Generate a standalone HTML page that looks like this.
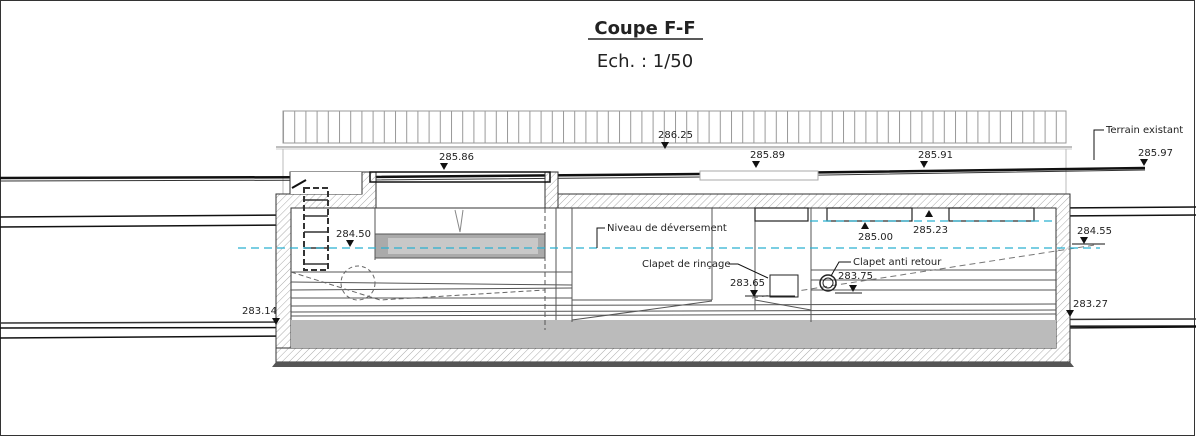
<!DOCTYPE html>
<html><head><meta charset="utf-8"><style>
html,body{margin:0;padding:0;background:#fff}
svg{display:block}
text{font-family:"DejaVu Sans","Liberation Sans",sans-serif;fill:#222}
</style></head><body>
<svg width="1196" height="437" viewBox="0 0 1196 437" xmlns="http://www.w3.org/2000/svg">
<defs>
<pattern id="h" width="5" height="5" patternUnits="userSpaceOnUse" patternTransform="rotate(45)">
<rect width="5" height="5" fill="#fff"/><line x1="0" y1="0" x2="0" y2="5" stroke="#aaa" stroke-width="1"/>
</pattern>
<pattern id="f" width="11.2" height="32" patternUnits="userSpaceOnUse" x="283">
<line x1="0.5" y1="0" x2="0.5" y2="32" stroke="#999" stroke-width="1"/>
</pattern>
</defs>
<rect x="0.5" y="0.5" width="1194" height="435" fill="#fff" stroke="#333"/>
<text x="645" y="34" font-size="18" font-weight="bold" text-anchor="middle">Coupe F-F</text>
<line x1="588" y1="39" x2="703" y2="39" stroke="#222" stroke-width="1.5"/>
<text x="645" y="67" font-size="18" text-anchor="middle">Ech. : 1/50</text>

<!-- fence -->
<rect x="283" y="111" width="783" height="32" fill="url(#f)" stroke="#999"/>
<line x1="276" y1="147" x2="1072" y2="147" stroke="#aaa" stroke-width="1.5"/>
<line x1="276" y1="149" x2="1072" y2="149" stroke="#ccc" stroke-width="1"/>
<line x1="283" y1="149" x2="283" y2="194" stroke="#bbb"/>
<line x1="1066" y1="149" x2="1066" y2="194" stroke="#bbb"/>

<!-- road -->
<path d="M0 178 L370 177 L700 174 L1145 168" stroke="#111" stroke-width="2.5" fill="none"/>
<path d="M0 181 L370 180 L700 177 L1145 170" stroke="#333" stroke-width="1" fill="none"/>
<rect x="700" y="171" width="118" height="9" fill="#fff" stroke="#aaa"/>

<!-- left pipes -->
<line x1="0" y1="217" x2="290" y2="215" stroke="#111" stroke-width="1.5"/>
<line x1="0" y1="227" x2="290" y2="225" stroke="#111" stroke-width="1.5"/>
<line x1="0" y1="323" x2="1196" y2="319" stroke="#333" stroke-width="1.5"/>
<line x1="0" y1="328" x2="1196" y2="326" stroke="#111" stroke-width="1.5"/>
<line x1="0" y1="338" x2="290" y2="336" stroke="#111" stroke-width="1.5"/>
<!-- right pipes -->
<line x1="1056" y1="208" x2="1196" y2="207" stroke="#111" stroke-width="1.5"/>
<line x1="1056" y1="216" x2="1196" y2="215" stroke="#111" stroke-width="1.5"/>
<line x1="1056" y1="328" x2="1196" y2="327" stroke="#111" stroke-width="1.5"/>

<!-- structure walls -->
<path d="M276 194 H290 V172 H362 V172 H376 V208 H291 V348 H1056 V208 H558 V194 H1070 V362 H276 Z" fill="url(#h)" stroke="#333" stroke-width="1"/>
<path d="M276 194 H362 V172 H376 V208 H291 V348 H276 Z" fill="url(#h)" stroke="#333"/>
<path d="M545 172 H558 V208 H545 Z" fill="url(#h)" stroke="#333"/>
<rect x="290" y="172" width="72" height="22" fill="#fff"/>
<path d="M276 194 H290 M290 194 V172 M362 172 V194" stroke="#333" fill="none"/>
<rect x="291" y="208" width="765" height="140" fill="#fff" stroke="#333"/>
<rect x="291" y="320" width="765" height="28" fill="#bbb"/>
<path d="M272 367 L276 362 H1070 L1074 367 Z" fill="#555"/>
<!-- opening lid -->
<rect x="370" y="172" width="180" height="10" fill="none" stroke="#111" stroke-width="1.5"/>
<line x1="375" y1="208" x2="375" y2="260" stroke="#555"/>
<line x1="545" y1="208" x2="545" y2="330" stroke="#555" stroke-dasharray="5,3"/>
<line x1="556" y1="208" x2="556" y2="320" stroke="#555"/>
<!-- ladder -->
<rect x="304" y="188" width="24" height="82" fill="none" stroke="#333" stroke-width="2" stroke-dasharray="6,3"/>
<g stroke="#333" stroke-width="1.5"><line x1="304" y1="200" x2="328" y2="200"/><line x1="304" y1="216" x2="328" y2="216"/><line x1="304" y1="232" x2="328" y2="232"/><line x1="304" y1="248" x2="328" y2="248"/><line x1="304" y1="264" x2="328" y2="264"/></g>
<line x1="292" y1="188" x2="306" y2="180" stroke="#111" stroke-width="2"/>
<!-- machinery -->
<rect x="375" y="234" width="170" height="24" fill="#aaa" stroke="#555"/>
<rect x="388" y="238" width="150" height="16" fill="#c8c8c8"/>
<path d="M455 210 L460 232 L463 210" stroke="#888" fill="none"/>
<!-- layered lines -->
<g stroke="#555" stroke-width="1" fill="none">
<line x1="291" y1="272" x2="572" y2="272"/><line x1="291" y1="282" x2="572" y2="285"/>
<line x1="291" y1="290" x2="572" y2="288"/><line x1="291" y1="298" x2="572" y2="298"/>
<line x1="291" y1="306" x2="1056" y2="304"/><line x1="291" y1="312" x2="1056" y2="310"/>
<line x1="291" y1="316" x2="1056" y2="314"/>
<line x1="572" y1="208" x2="572" y2="322"/><line x1="712" y1="208" x2="712" y2="300"/>
<line x1="755" y1="208" x2="755" y2="310"/><line x1="811" y1="208" x2="811" y2="322"/>
<line x1="572" y1="300" x2="712" y2="300"/><line x1="811" y1="270" x2="1056" y2="270"/>
<line x1="811" y1="280" x2="1056" y2="280"/><line x1="811" y1="290" x2="1056" y2="290"/>
<line x1="572" y1="320" x2="712" y2="301"/><line x1="755" y1="300" x2="811" y2="310"/>
</g>
<path d="M291 272 L380 300 L545 290" stroke="#666" fill="none" stroke-dasharray="5,3"/>
<circle cx="358" cy="283" r="17" fill="none" stroke="#666" stroke-dasharray="4,3"/>
<line x1="752" y1="298" x2="1095" y2="245" stroke="#777" stroke-dasharray="6,4"/>
<!-- overflow weirs -->
<g fill="#fff" stroke="#222" stroke-width="1.2">
<rect x="755" y="208" width="53" height="13"/><rect x="827" y="208" width="85" height="13"/><rect x="949" y="208" width="85" height="13"/>
</g>
<!-- cyan levels -->
<line x1="238" y1="248" x2="1100" y2="248" stroke="#2ab0d0" stroke-width="1.2" stroke-dasharray="8,5"/>
<line x1="810" y1="221" x2="1056" y2="221" stroke="#2ab0d0" stroke-width="1.2" stroke-dasharray="8,5"/>
<!-- devices -->
<rect x="770" y="275" width="28" height="22" fill="#fff" stroke="#222"/>
<circle cx="828" cy="283" r="8" fill="none" stroke="#222" stroke-width="1.5"/>
<circle cx="828" cy="283" r="5" fill="none" stroke="#222"/>
<line x1="745" y1="296" x2="795" y2="296" stroke="#222"/>
<line x1="835" y1="293" x2="862" y2="293" stroke="#222"/>
<!-- labels -->
<g font-size="10">
<text x="439" y="160">285.86</text><text x="658" y="138">286.25</text>
<text x="750" y="158">285.89</text><text x="918" y="158">285.91</text>
<text x="1138" y="156">285.97</text><text x="1106" y="133">Terrain existant</text>
<text x="336" y="237">284.50</text><text x="607" y="231">Niveau de déversement</text>
<text x="858" y="240">285.00</text><text x="913" y="233">285.23</text>
<text x="1077" y="234">284.55</text><text x="642" y="267">Clapet de rinçage</text>
<text x="853" y="265">Clapet anti retour</text><text x="730" y="286">283.65</text>
<text x="838" y="279">283.75</text><text x="242" y="314">283.14</text><text x="1073" y="307">283.27</text>
</g>
<g fill="#111">
<path d="M440 163 h8 l-4 7z"/><path d="M661 142 h8 l-4 7z"/><path d="M752 161 h8 l-4 7z"/>
<path d="M920 161 h8 l-4 7z"/><path d="M1140 159 h8 l-4 7z"/><path d="M346 240 h8 l-4 7z"/>
<path d="M1080 237 h8 l-4 7z"/><path d="M750 290 h8 l-4 7z"/><path d="M849 285 h8 l-4 7z"/>
<path d="M272 318 h8 l-4 7z"/><path d="M1066 310 h8 l-4 7z"/>
<path d="M861 229 h8 l-4 -7z"/><path d="M925 217 h8 l-4 -7z"/>
</g>
<g stroke="#111" fill="none">
<path d="M1104 130 h-10 v30"/><path d="M605 228 h-8 v20"/>
<path d="M728 264 h10 l30 14"/><path d="M851 262 h-12 l-8 14"/>
<line x1="1072" y1="244" x2="1105" y2="244"/>
</g>
</svg>
</body></html>
